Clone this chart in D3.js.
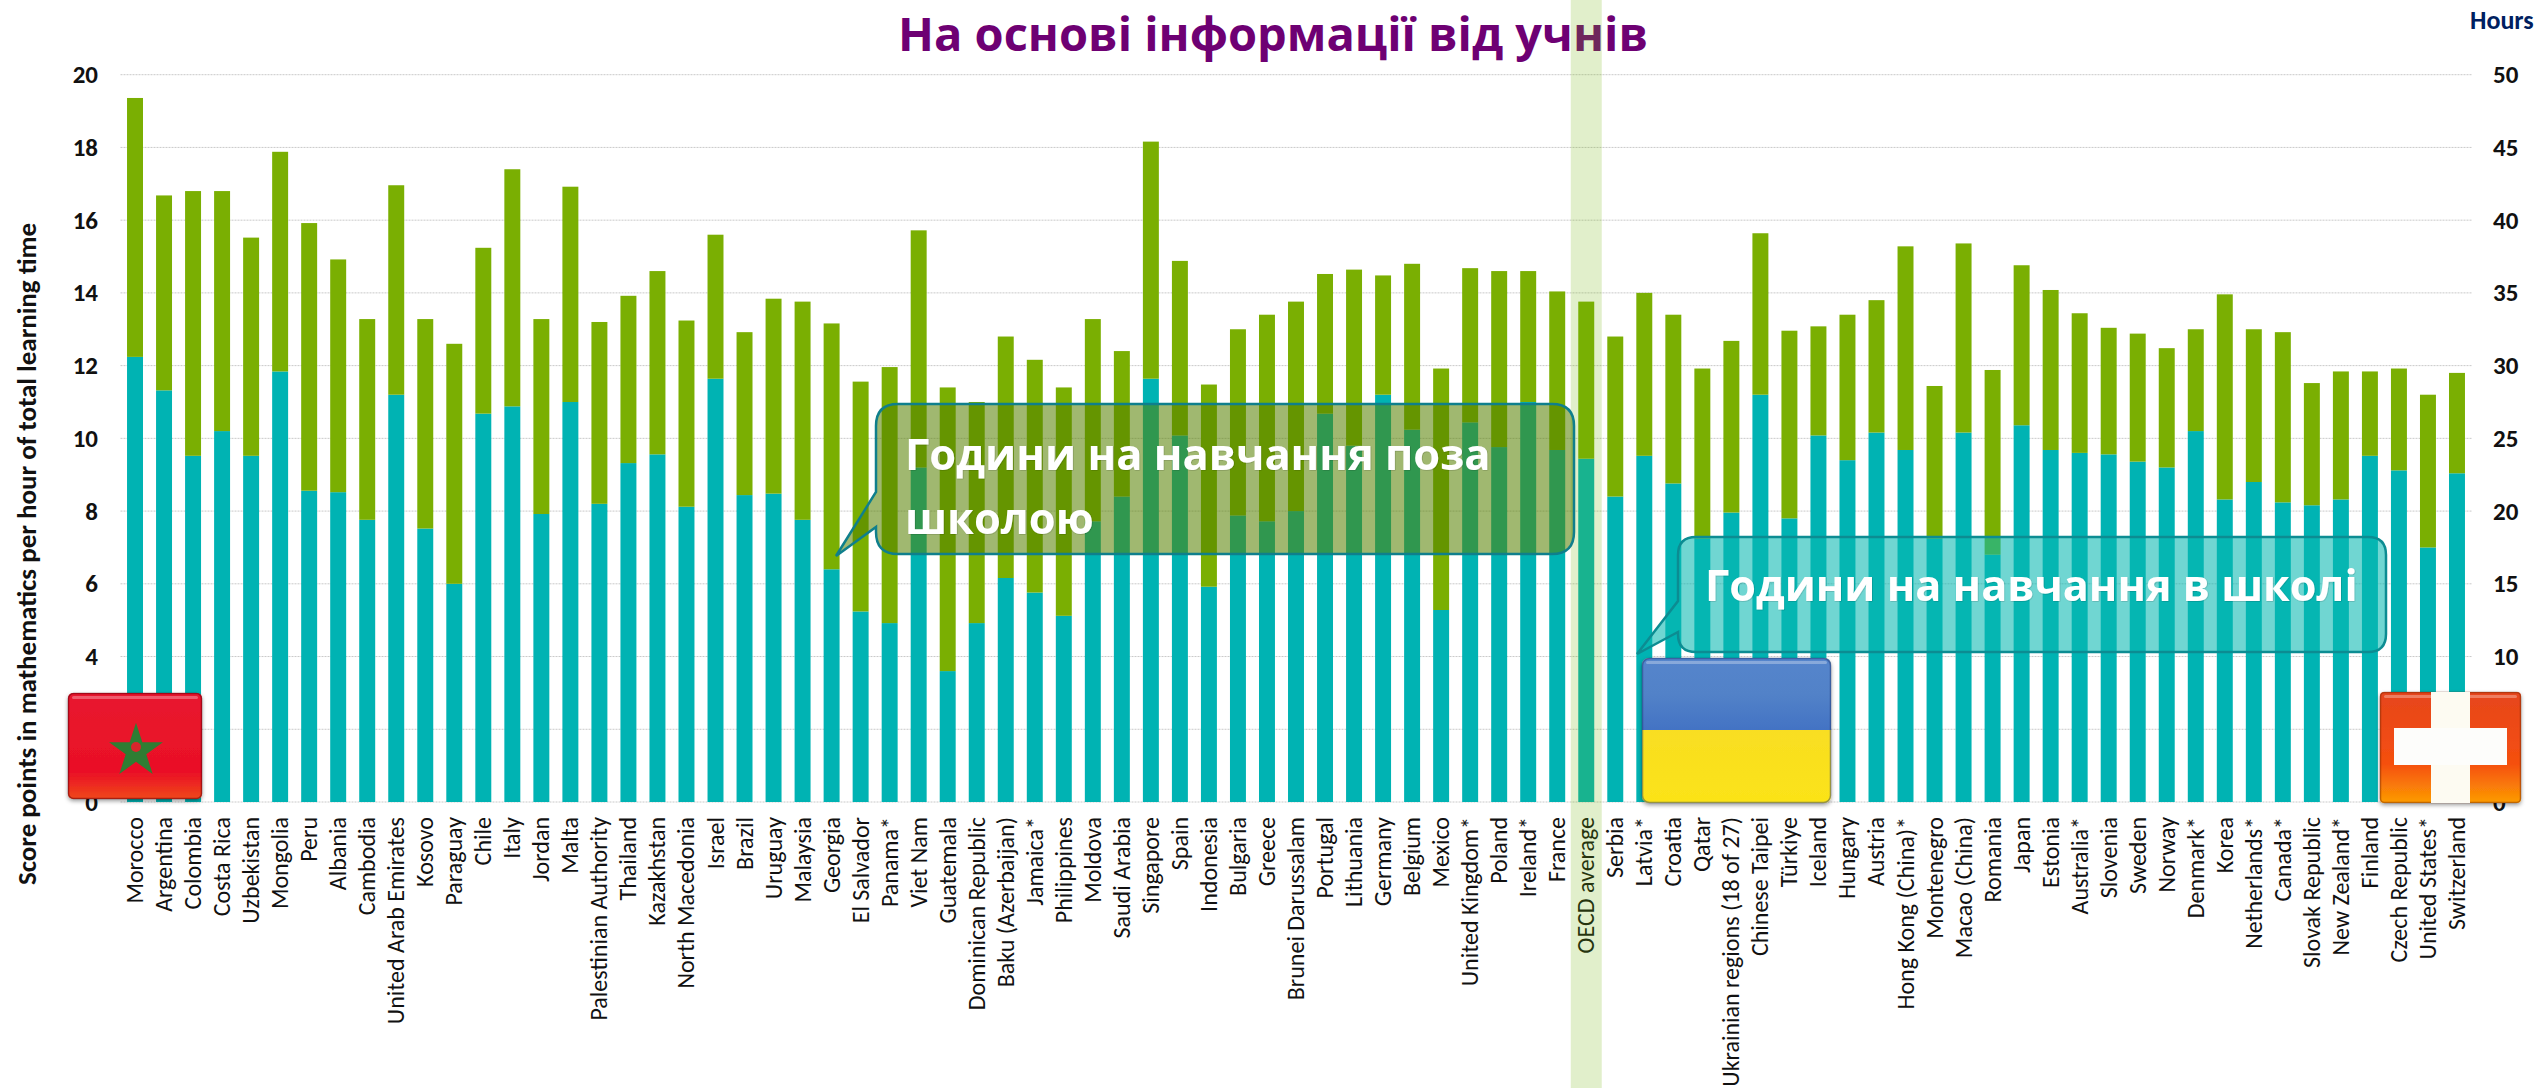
<!DOCTYPE html>
<html>
<head>
<meta charset="utf-8">
<script src="https://cdn.jsdelivr.net/npm/d3@7"></script>
<style>
  html, body { margin: 0; padding: 0; background: #fff; overflow: hidden; }
  text { font-family: Carlito, Lato, "Open Sans", sans-serif; }
  .uk { font-family: "Open Sans", sans-serif; }
</style>
</head>
<body>
<script>
const countries = ["Morocco","Argentina","Colombia","Costa Rica","Uzbekistan","Mongolia","Peru","Albania","Cambodia","United Arab Emirates","Kosovo","Paraguay","Chile","Italy","Jordan","Malta","Palestinian Authority","Thailand","Kazakhstan","North Macedonia","Israel","Brazil","Uruguay","Malaysia","Georgia","El Salvador","Panama*","Viet Nam","Guatemala","Dominican Republic","Baku (Azerbaijan)","Jamaica*","Philippines","Moldova","Saudi Arabia","Singapore","Spain","Indonesia","Bulgaria","Greece","Brunei Darussalam","Portugal","Lithuania","Germany","Belgium","Mexico","United Kingdom*","Poland","Ireland*","France","OECD average","Serbia","Latvia*","Croatia","Qatar","Ukrainian regions (18 of 27)","Chinese Taipei","Türkiye","Iceland","Hungary","Austria","Hong Kong (China)*","Montenegro","Macao (China)","Romania","Japan","Estonia","Australia*","Slovenia","Sweden","Norway","Denmark*","Korea","Netherlands*","Canada*","Slovak Republic","New Zealand*","Finland","Czech Republic","United States*","Switzerland"];

// hours
const schoolHours = [30.6,28.3,23.8,25.5,23.8,29.6,21.4,21.3,19.4,28.0,18.8,15.0,26.7,27.2,19.8,27.5,20.5,23.3,23.9,20.3,29.1,21.1,21.2,19.4,16.0,13.1,12.3,23.0,9.0,12.3,15.4,14.4,12.8,19.3,21.0,29.1,25.2,14.8,19.7,19.3,20.0,26.7,24.5,28.0,25.6,13.2,26.1,24.4,27.5,24.2,23.6,21.0,23.8,21.9,18.1,19.9,28.0,19.5,25.2,23.5,25.4,24.2,18.1,25.4,17.0,25.9,24.2,24.0,23.9,23.4,23.0,25.5,20.8,22.0,20.6,20.4,20.8,23.8,22.8,17.5,22.6];
const outsideHours = [17.8,13.4,18.2,16.5,15.0,15.1,18.4,16.0,13.8,14.4,14.4,16.5,11.4,16.3,13.4,14.8,12.5,11.5,12.6,12.8,9.9,11.2,13.4,15.0,16.9,15.8,17.6,16.3,19.5,15.2,16.6,16.0,15.7,13.9,10.0,16.3,12.0,13.9,12.8,14.2,14.4,9.6,12.1,8.2,11.4,16.6,10.6,12.1,9.0,10.9,10.8,11.0,11.2,11.6,11.7,11.8,11.1,12.9,7.5,10.0,9.1,14.0,10.5,13.0,12.7,11.0,11.0,9.6,8.7,8.8,8.2,7.0,14.1,10.5,11.7,8.4,8.8,5.8,7.0,10.5,6.9];

const leftTicks = [0,2,4,6,8,10,12,14,16,18,20];
const rightTicks = [0,5,10,15,20,25,30,35,40,45,50];

const titleText = "На основі інформації від учнів";
const yAxisLabel = "Score points in mathematics per hour of total learning time";
const rightUnit = "Hours";
const calloutOutside = ["Години на навчання поза", "школою"];
const calloutSchool = "Години на навчання в школі";
const highlighted = "OECD average";

const width = 2537, height = 1088;
const plotLeft = 120.5, plotRight = 2471.5, plotTop = 74.7, plotBottom = 802;

const svg = d3.select("body").append("svg")
    .attr("width", width)
    .attr("height", height)
    .style("display", "block");

const x = d3.scaleBand().domain(countries).range([plotLeft, plotRight]).paddingInner(0.45).paddingOuter(0.225);
const yLeft = d3.scaleLinear().domain([0, 20]).range([plotBottom, plotTop]);
const yRight = d3.scaleLinear().domain([0, 50]).range([plotBottom, plotTop]);

// gridlines
svg.append("g").selectAll("line").data(leftTicks).join("line")
    .attr("x1", plotLeft).attr("x2", plotRight)
    .attr("y1", d => yLeft(d)).attr("y2", d => yLeft(d))
    .attr("stroke", "#c9c9c9")
    .attr("stroke-dasharray", "2 1");

// stacked bars
const table = countries.map((c, i) => ({ country: c, school: schoolHours[i], outside: outsideHours[i] }));
const stack = d3.stack().keys(["school", "outside"])(table);
const colors = { school: "#00b3b3", outside: "#7aaf02" };

svg.append("g").selectAll("g").data(stack).join("g")
    .attr("fill", d => colors[d.key])
    .selectAll("rect").data(d => d).join("rect")
    .attr("x", d => x(d.data.country))
    .attr("width", x.bandwidth())
    .attr("y", d => yRight(d[1]))
    .attr("height", d => yRight(d[0]) - yRight(d[1]));

// left axis
const axisLeft = svg.append("g")
    .attr("transform", `translate(98,0)`)
    .call(d3.axisLeft(yLeft).tickValues(leftTicks).tickSize(0).tickPadding(0));
axisLeft.select(".domain").remove();
axisLeft.selectAll("text").attr("font-size", 25).attr("font-weight", "bold").attr("fill", "#111");

// right axis
const axisRight = svg.append("g")
    .attr("transform", `translate(2493,0)`)
    .call(d3.axisRight(yRight).tickValues(rightTicks).tickSize(0).tickPadding(0));
axisRight.select(".domain").remove();
axisRight.selectAll("text").attr("font-size", 25).attr("font-weight", "bold").attr("fill", "#111");

// country labels
const axisBottom = svg.append("g")
    .attr("transform", `translate(0,${plotBottom})`)
    .call(d3.axisBottom(x).tickSize(0).tickPadding(0));
axisBottom.select(".domain").remove();
axisBottom.selectAll("text")
    .attr("font-size", 24)
    .attr("fill", "#111")
    .attr("text-anchor", "end")
    .attr("dy", 0)
    .attr("transform", d => `translate(8,15) rotate(-90)`)
    .attr("x", 0).attr("y", 0);

// axis title
svg.append("text")
    .attr("transform", "translate(36,554) rotate(-90)")
    .attr("text-anchor", "middle")
    .attr("font-size", 27)
    .attr("font-weight", "bold")
    .attr("fill", "#111")
    .text(yAxisLabel);

svg.append("text")
    .attr("x", 2470).attr("y", 29)
    .attr("font-size", 26)
    .attr("font-weight", "bold")
    .attr("fill", "#002060")
    .text(rightUnit);

// title
svg.append("text")
    .attr("class", "uk")
    .attr("x", 1273).attr("y", 50.5)
    .attr("text-anchor", "middle")
    .attr("font-size", 47)
    .attr("font-weight", "bold")
    .attr("fill", "#6e0073")
    .text(titleText);

// OECD band goes over the bars, it tints them
const bandX = x(highlighted) + x.bandwidth() / 2;
svg.append("rect")
    .attr("x", bandX - 15.5).attr("y", 0)
    .attr("width", 31).attr("height", height)
    .attr("fill", "rgba(115,178,10,0.21)");

// callouts
function callout(path, fill, stroke) {
    svg.append("path")
        .attr("d", path)
        .attr("fill", fill)
        .attr("stroke", stroke)
        .attr("stroke-width", 2.5);
}
callout("M876,426 Q876,404 898,404 L1552,404 Q1574,404 1574,426 L1574,532 Q1574,554 1552,554 L898,554 Q876,554 876,532 L876,527 L836,556 L876,492 Z",
    "rgba(86,129,0,0.56)", "#0f7f8c");
callout("M1678,555 Q1678,537 1696,537 L2368,537 Q2386,537 2386,555 L2386,634 Q2386,652 2368,652 L1696,652 Q1678,652 1678,634 L1678,632 L1637,654 L1678,601 Z",
    "rgba(8,184,178,0.58)", "#0c8c92");

const defs = svg.append("defs");
const shadow = defs.append("filter").attr("id", "soft");
shadow.append("feDropShadow").attr("dx", 0.5).attr("dy", 0.5).attr("stdDeviation", 0.7).attr("flood-color", "#000").attr("flood-opacity", 0.25);

svg.append("g").selectAll("text").data(calloutOutside).join("text")
    .attr("class", "uk")
    .attr("x", 905)
    .attr("y", (d, i) => 470 + i * 64)
    .attr("font-size", 43.4)
    .attr("font-weight", "bold")
    .attr("fill", "#fff")
    .attr("filter", "url(#soft)")
    .text(d => d);

svg.append("text")
    .attr("class", "uk")
    .attr("x", 1705).attr("y", 601)
    .attr("font-size", 43.2)
    .attr("font-weight", "bold")
    .attr("fill", "#fff")
    .attr("filter", "url(#soft)")
    .text(calloutSchool);

// flags
function vGrad(id, stops) {
    const g = defs.append("linearGradient").attr("id", id).attr("x1", 0).attr("x2", 0).attr("y1", 0).attr("y2", 1);
    stops.forEach(s => g.append("stop").attr("offset", s[0]).attr("stop-color", s[1]));
}
vGrad("maroc", [[0, "#e8162f"], [0.75, "#ea1026"], [1, "#f0481a"]]);
vGrad("swiss", [[0, "#e6451c"], [0.65, "#f5500f"], [1, "#fd9c02"]]);
vGrad("ukrTop", [[0, "#5585cc"], [0.5, "#5282c8"], [1, "#4373c4"]]);
vGrad("ukrBottom", [[0, "#f6d92c"], [1, "#fbe318"]]);

const flagShadow = defs.append("filter").attr("id", "flagShadow");
flagShadow.append("feDropShadow").attr("dx", 0).attr("dy", 2).attr("stdDeviation", 2).attr("flood-color", "#000").attr("flood-opacity", 0.4);

// dark edge and light strip along the top, the glossy icon look
function gloss(g, bx, by, bw, bh, r, edge) {
    g.append("rect").attr("x", bx + 0.5).attr("y", by + 0.5).attr("width", bw - 1).attr("height", bh - 1).attr("rx", r)
        .attr("fill", "none").attr("stroke", edge).attr("stroke-width", 1.5);
    g.append("rect").attr("x", bx + 4).attr("y", by + 3).attr("width", bw - 8).attr("height", 3).attr("rx", 1.5)
        .attr("fill", "#fff").attr("opacity", 0.3);
}

// Morocco
const ma = svg.append("g");
ma.append("rect").attr("x", 68).attr("y", 693).attr("width", 134).attr("height", 106).attr("rx", 5)
    .attr("fill", "url(#maroc)").attr("filter", "url(#flagShadow)");
ma.append("path")
    .attr("d", d3.symbol(d3.symbolStar, 900))
    .attr("transform", "translate(136,751)")
    .attr("fill", "#2f7d33");
ma.append("circle").attr("cx", 136).attr("cy", 747).attr("r", 5).attr("fill", "#d8262c");
gloss(ma, 68, 693, 134, 106, 5, "rgba(110,0,10,0.55)");

// Ukraine
const ua = svg.append("g");
ua.append("rect").attr("x", 1642).attr("y", 658).attr("width", 189).attr("height", 145).attr("rx", 7)
    .attr("fill", "url(#ukrBottom)").attr("filter", "url(#flagShadow)");
ua.append("path").attr("d", "M1642,730 L1642,665 Q1642,658 1649,658 L1824,658 Q1831,658 1831,665 L1831,730 Z")
    .attr("fill", "url(#ukrTop)");
gloss(ua, 1642, 658, 189, 145, 7, "rgba(30,50,110,0.45)");

// Switzerland
const ch = svg.append("g");
ch.append("rect").attr("x", 2380).attr("y", 692).attr("width", 141).attr("height", 111).attr("rx", 4)
    .attr("fill", "url(#swiss)").attr("filter", "url(#flagShadow)");
gloss(ch, 2380, 692, 141, 111, 4, "rgba(120,40,0,0.45)");
ch.append("rect").attr("x", 2431).attr("y", 692).attr("width", 39).attr("height", 111).attr("fill", "#fdfbf2");
ch.append("rect").attr("x", 2394).attr("y", 728).attr("width", 113).attr("height", 37).attr("fill", "#fdfdfb");
</script>
</body>
</html>
